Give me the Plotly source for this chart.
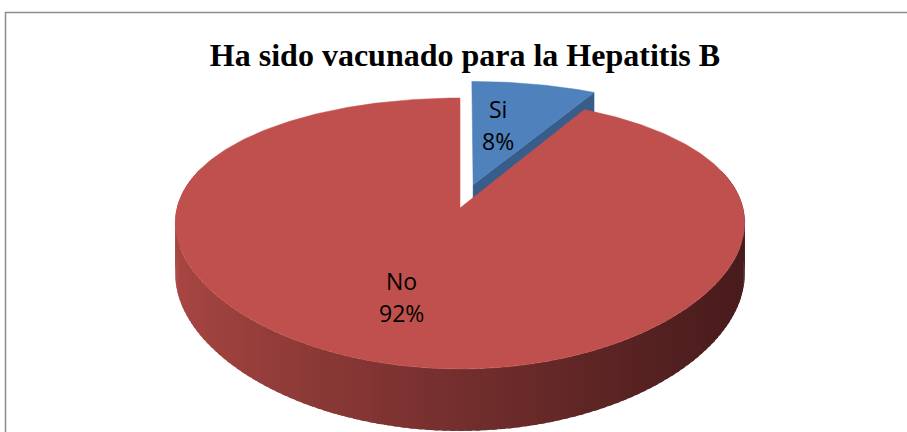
import numpy as np
import plotly.graph_objects as go

# ---- data ----
labels = ["Si", "No"]
values = [8, 92]
title_text = "Ha sido vacunado para la Hepatitis B"

# ---- style / geometry ----
top_colors = ["#4F81BD", "#C0504D"]
blue_side = "#385D8A"
red_side_left = np.array([168, 70, 66])
red_side_right = np.array([72, 27, 28])
W, H = 907, 432
CX, CY = 460.0, 208.0
AX, BY = 283.0, 130.7
KX, KY = 0.11, 0.188
DEPTH = 50.3
EXPLODE = [0.19, 0.0]
LABEL_R = 0.6
LABEL_DX, LABEL_DY = -13, 4
LINE_GAP = 16


def proj(X, Y, Z=0.0):
    X = np.asarray(X, float)
    Y = np.asarray(Y, float)
    sx = CX + AX * X / (1 + KX * Y)
    sy = CY - BY * Y / (1 + KY * Y) - DEPTH * Z / (1 + KY * Y)
    return sx, sy


def rgb(c):
    return "rgb(%d,%d,%d)" % tuple(int(round(v)) for v in c)


total = float(sum(values))
fig = go.Figure()

slices = []
start = 90.0
for lab, v, e in zip(labels, values, EXPLODE):
    a0 = start
    a1 = start - v / total * 360.0
    mid = np.radians((a0 + a1) / 2)
    ox, oy = e * np.cos(mid), e * np.sin(mid)
    slices.append(dict(label=lab, v=v, a0=a0, a1=a1, ox=ox, oy=oy, mid=mid))
    start = a1

# ---- blue (exploded) slice: visible radial side face, then top ----
s = slices[0]
a1r = np.radians(s["a1"])
ex = [s["ox"], s["ox"] + np.cos(a1r), s["ox"] + np.cos(a1r), s["ox"]]
ey = [s["oy"], s["oy"] + np.sin(a1r), s["oy"] + np.sin(a1r), s["oy"]]
ez = [0, 0, -1, -1]
px, py = zip(*[proj(a, b, c) for a, b, c in zip(ex, ey, ez)])
fig.add_trace(go.Scatter(x=list(px) + [px[0]], y=list(py) + [py[0]], fill="toself",
                         fillcolor=blue_side, line=dict(color=blue_side, width=0.5),
                         mode="lines", hoverinfo="skip", showlegend=False))
t = np.radians(np.linspace(s["a0"], s["a1"], 40))
X = np.concatenate([[0], np.cos(t), [0]]) + s["ox"]
Y = np.concatenate([[0], np.sin(t), [0]]) + s["oy"]
px, py = proj(X, Y)
fig.add_trace(go.Scatter(x=px, y=py, fill="toself", fillcolor=top_colors[0],
                         line=dict(color=top_colors[0], width=0.5), mode="lines",
                         hoverinfo="skip", showlegend=False))

# ---- red slice: outer wall strips with gradient, then top ----
s = slices[1]
n = int(abs(s["a1"] - s["a0"]) / 1.5)
angs = np.radians(np.linspace(s["a0"], s["a1"], n + 1))
step = angs[1] - angs[0]
for i in range(n):
    ta, tb = angs[i], angs[i + 1] + step * 0.6
    if np.sin((ta + tb) / 2) > 0.3:
        continue
    Xs = np.array([np.cos(ta), np.cos(tb), np.cos(tb), np.cos(ta)]) + s["ox"]
    Ys = np.array([np.sin(ta), np.sin(tb), np.sin(tb), np.sin(ta)]) + s["oy"]
    Zs = np.array([0, 0, -1, -1])
    sx, sy = proj(Xs, Ys, Zs)
    tt = np.clip((sx.mean() - 175) / (745 - 175), 0, 1) ** 0.85
    col = rgb(red_side_left + (red_side_right - red_side_left) * tt)
    fig.add_trace(go.Scatter(x=list(sx) + [sx[0]], y=list(sy) + [sy[0]], fill="toself",
                             fillcolor=col, line=dict(color=col, width=0), mode="lines",
                             hoverinfo="skip", showlegend=False))
t = np.radians(np.linspace(s["a0"], s["a1"], 400))
X = np.concatenate([[0], np.cos(t), [0]]) + s["ox"]
Y = np.concatenate([[0], np.sin(t), [0]]) + s["oy"]
px, py = proj(X, Y)
fig.add_trace(go.Scatter(x=px, y=py, fill="toself", fillcolor=top_colors[1],
                         line=dict(color=top_colors[1], width=0.5), mode="lines",
                         hoverinfo="skip", showlegend=False))

# ---- data labels ----
annotations = []
for s in slices:
    X = s["ox"] + LABEL_R * np.cos(s["mid"])
    Y = s["oy"] + LABEL_R * np.sin(s["mid"])
    a, b = proj(X, Y)
    pct = "%d%%" % round(s["v"] / total * 100)
    for txt, dy in ((s["label"], -LINE_GAP), (pct, LINE_GAP)):
        annotations.append(dict(x=float(a), y=float(b), xref="x", yref="y", text=txt,
                                showarrow=False, xanchor="center", yanchor="middle",
                                xshift=LABEL_DX, yshift=-(dy + LABEL_DY),
                                font=dict(family="Open Sans", size=23, color="black")))

fig.update_layout(
    width=W, height=H, autosize=False,
    margin=dict(l=0, r=0, t=0, b=0),
    paper_bgcolor="white", plot_bgcolor="white",
    xaxis=dict(range=[0, W], visible=False, fixedrange=True),
    yaxis=dict(range=[H, 0], visible=False, fixedrange=True),
    title=dict(text="<b>" + title_text + "</b>", x=465 / W, xanchor="center",
               y=1 - 55 / H, yanchor="middle",
               font=dict(family="Liberation Serif", size=32, color="black")),
    annotations=annotations,
    shapes=[
        dict(type="line", xref="x", yref="y", x0=5, x1=W, y0=12.5, y1=12.5,
             line=dict(color="#8C8C8C", width=1.5)),
        dict(type="line", xref="x", yref="y", x0=5.5, x1=5.5, y0=12, y1=H,
             line=dict(color="#8C8C8C", width=1.5)),
    ],
)
fig.write_html("out.html")
